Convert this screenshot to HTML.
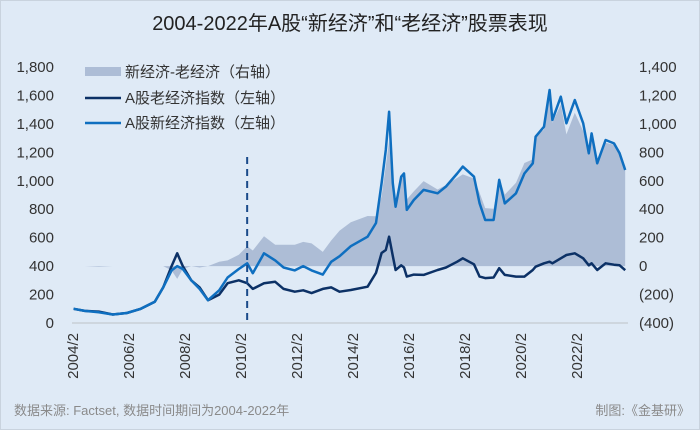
<!DOCTYPE html>
<html><head><meta charset="utf-8"><style>
body{margin:0;width:700px;height:430px;overflow:hidden;background:#dfeaf6;font-family:"Liberation Sans","Noto Sans CJK SC",sans-serif;}
svg{display:block}
</style></head><body>
<svg id="c" width="700" height="430">
<rect x="0.5" y="0.5" width="699" height="429" fill="#dfeaf6" stroke="#c9d3de"/>
<text x="350" y="30" text-anchor="middle" font-size="20" fill="#222">2004-2022年A股“新经济”和“老经济”股票表现</text>
<g id="plot"></g>
<g font-size="15" fill="#333">
<g><rect x="85" y="67" width="36" height="9" fill="#adbdd6"/><text x="125" y="77">新经济-老经济（右轴）</text></g>
<g><line x1="85" y1="98" x2="121" y2="98" stroke="#0c3166" stroke-width="2.5"/><text x="125" y="103">A股老经济指数（左轴）</text></g>
<g><line x1="85" y1="123" x2="121" y2="123" stroke="#0f6fc0" stroke-width="2.5"/><text x="125" y="128">A股新经济指数（左轴）</text></g>
</g>
<text x="14" y="415" font-size="13" fill="#8a8a8a">数据来源: Factset, 数据时间期间为2004-2022年</text>
<text x="690" y="415" text-anchor="end" font-size="13" fill="#8a8a8a">制图:《金基研》</text>
</svg>
<script>
const dates=[2004.1,2004.5,2005.0,2005.5,2006.0,2006.5,2007.0,2007.3,2007.6,2007.8,2008.0,2008.3,2008.6,2008.9,2009.3,2009.6,2010.0,2010.3,2010.5,2010.9,2011.3,2011.6,2012.0,2012.3,2012.6,2013.0,2013.3,2013.6,2014.0,2014.6,2014.9,2015.1,2015.25,2015.37,2015.5,2015.6,2015.8,2015.9,2016.0,2016.25,2016.6,2017.1,2017.4,2017.8,2018.0,2018.4,2018.6,2018.8,2019.1,2019.3,2019.5,2019.9,2020.2,2020.5,2020.6,2020.9,2021.1,2021.2,2021.5,2021.7,2022.0,2022.3,2022.5,2022.6,2022.8,2023.1,2023.4,2023.6,2023.8];
const newIdx=[100,85,75,60,70,100,150,250,370,400,380,300,240,160,230,320,380,420,350,490,440,390,370,400,370,340,430,470,540,607,703,984,1217,1486,983,818,1029,1051,795,865,936,912,960,1051,1100,1029,841,724,724,1006,841,912,1051,1123,1310,1380,1638,1427,1591,1404,1568,1404,1193,1333,1123,1287,1263,1193,1076];
const oldIdx=[100,85,80,60,70,100,150,250,400,490,400,300,250,160,200,280,300,280,240,280,290,240,220,230,210,240,250,220,232,255,352,492,513,607,471,373,406,390,326,340,338,373,390,431,455,413,326,316,320,385,338,326,326,373,396,420,431,420,455,478,490,455,406,420,373,420,410,406,371];
const leftTicks=[0,200,400,600,800,1000,1200,1400,1600,1800];
const rightTicks=[-400,-200,0,200,400,600,800,1000,1200,1400];
const xTicks=[2004,2006,2008,2010,2012,2014,2016,2018,2020,2022];
const splitDate=2010.3;
const NS="http://www.w3.org/2000/svg";
const g=document.getElementById('plot');
const X=t=>73+(t-2004.08)*28;
const Y=v=>323-v*256/1800;
const YR=v=>Y(v+400);
function mk(tag,a){const e=document.createElementNS(NS,tag);for(const k in a)e.setAttribute(k,a[k]);g.appendChild(e);return e;}
let d='M'+X(dates[0])+','+YR(0);
dates.forEach((t,i)=>{d+=' L'+X(t).toFixed(1)+','+YR(newIdx[i]-oldIdx[i]).toFixed(1);});
d+=' L'+X(dates[dates.length-1])+','+YR(0)+' Z';
const area=mk('path',{d:d,fill:'#adbdd6'});


const ax=mk('line',{x1:72,x2:628,y1:Y(0),y2:Y(0),stroke:'#c4c9cf','stroke-width':1.2});


function line(arr,col,name){const p=mk('path',{d:'M'+dates.map((t,i)=>X(t).toFixed(1)+','+Y(arr[i]).toFixed(1)).join(' L'),fill:'none',stroke:col,'stroke-width':2.5,'stroke-linejoin':'round'});

}
line(oldIdx,'#0c3166','old-economy-line');
line(newIdx,'#0f6fc0','new-economy-line');
const dl=mk('line',{x1:X(splitDate),x2:X(splitDate),y1:157,y2:325,stroke:'#1a4a8a','stroke-width':2,'stroke-dasharray':'7,5'});


leftTicks.forEach(v=>{const t=mk('text',{x:54,y:Y(v)+5,'text-anchor':'end','font-size':15,fill:'#333'});t.textContent=v.toLocaleString('en-US');

});
rightTicks.forEach(v=>{const t=mk('text',{x:639,y:YR(v)+5,'font-size':15,fill:'#333'});t.textContent=v<0?'('+(-v)+')':v.toLocaleString('en-US');

});
xTicks.forEach(yr=>{const x=X(yr+0.08)+5;const t=mk('text',{x:x,y:333,'text-anchor':'end','font-size':15,fill:'#333',transform:'rotate(-90 '+x+' 333)'});t.textContent=yr+'/2';

});
</script>
</body></html>
